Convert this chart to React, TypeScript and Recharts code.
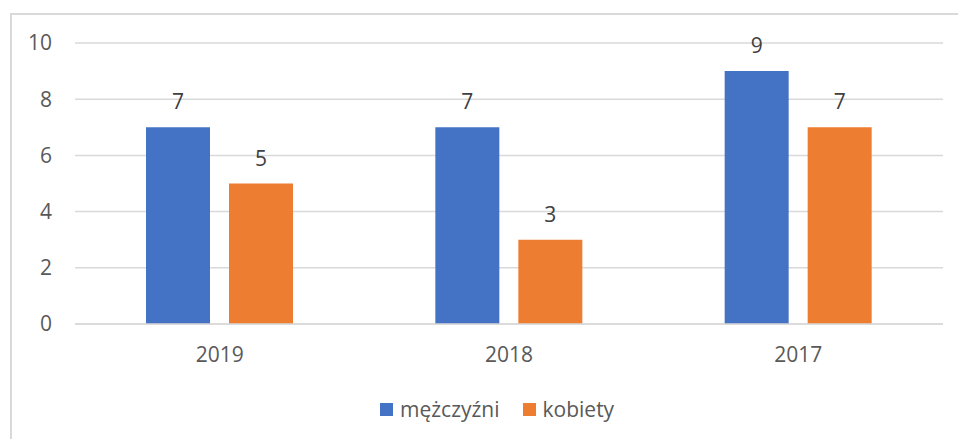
import React from "react";
import { BarChart, Bar, XAxis, YAxis, CartesianGrid, Legend, LabelList } from "recharts";

const categories = ["2019", "2018", "2017"];
const menValues = [7, 7, 9];
const womenValues = [5, 3, 7];
const yTicks = [0, 2, 4, 6, 8, 10];
const seriesNames = ["mężczyźni", "kobiety"];
const seriesColors = ["#4472C4", "#ED7D31"];

const data = categories.map((c, i) => ({ year: c, men: menValues[i], women: womenValues[i] }));

const FONT = "'Open Sans', sans-serif";

const LegendContent = () => (
  <div style={{ display: "flex", alignItems: "center", fontFamily: FONT, fontSize: 21, color: "#595959" }}>
    {seriesNames.map((n, i) => (
      <div key={n} style={{ display: "flex", alignItems: "center", marginRight: i === 0 ? 23 : 0 }}>
        <span style={{ width: 13, height: 13, background: seriesColors[i], display: "inline-block", marginRight: 7 }} />
        <span style={{ lineHeight: "28px" }}>{n}</span>
      </div>
    ))}
  </div>
);

export default function App() {
  return (
    <div style={{ position: "absolute", left: 0, top: 0, width: 958, height: 439, background: "#fff", overflow: "hidden" }}>
      <div style={{ position: "absolute", left: 10, top: 13, width: 970, height: 460, borderLeft: "2px solid #d9d9d9", borderTop: "2px solid #d9d9d9" }} />
      <div style={{ position: "absolute", left: 0, top: 0 }}>
        <BarChart
          width={958}
          height={439}
          data={data}
          margin={{ top: 43, right: 15, bottom: 0, left: 0 }}
          barSize={64}
          barGap={19}
          barCategoryGap={71}
        >
          <CartesianGrid vertical={false} stroke="#d9d9d9" strokeWidth={1.5} />
          <XAxis
            dataKey="year"
            height={115}
            tickSize={0}
            tickMargin={23}
            axisLine={{ stroke: "#d9d9d9", strokeWidth: 1.5 }}
            tickLine={false}
            tick={{ fill: "#595959", fontSize: 21, fontFamily: FONT }}
          />
          <YAxis
            width={75}
            domain={[0, 10]}
            ticks={yTicks}
            tickSize={0}
            tickMargin={23}
            axisLine={false}
            tickLine={false}
            tick={{ fill: "#595959", fontSize: 21, fontFamily: FONT }}
          />
          <Legend
            verticalAlign="middle"
            align="center"
            wrapperStyle={{ top: 395, left: 380, width: 300, height: 28 }}
            content={<LegendContent />}
          />
          <Bar dataKey="men" name={seriesNames[0]} fill={seriesColors[0]} isAnimationActive={false}>
            <LabelList dataKey="men" position="top" offset={18} fill="#404040" fontSize={21} fontFamily={FONT} />
          </Bar>
          <Bar dataKey="women" name={seriesNames[1]} fill={seriesColors[1]} isAnimationActive={false}>
            <LabelList dataKey="women" position="top" offset={18} fill="#404040" fontSize={21} fontFamily={FONT} />
          </Bar>
        </BarChart>
      </div>
    </div>
  );
}
